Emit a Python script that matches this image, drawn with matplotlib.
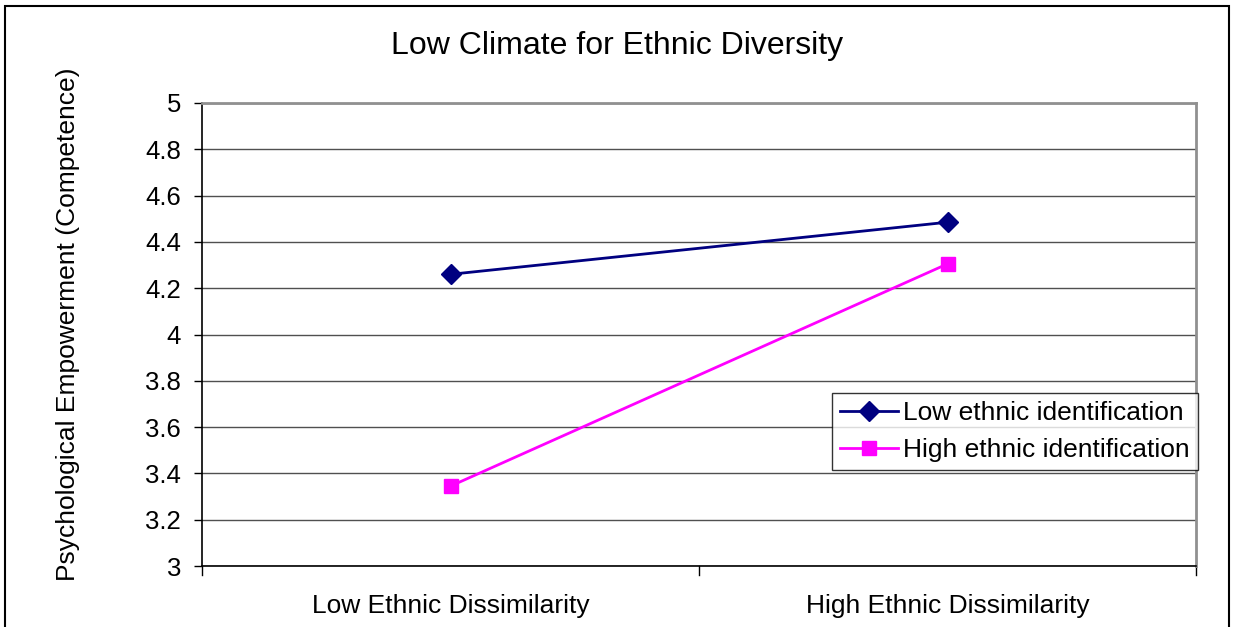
import matplotlib
matplotlib.use('Agg')
import matplotlib.pyplot as plt
from matplotlib.patches import Rectangle

plt.rcParams['font.family'] = ['Liberation Sans', 'DejaVu Sans']

categories = ['Low Ethnic Dissimilarity', 'High Ethnic Dissimilarity']
low_ident = [4.26, 4.485]
high_ident = [3.345, 4.305]
y_ticks = [3, 3.2, 3.4, 3.6, 3.8, 4, 4.2, 4.4, 4.6, 4.8, 5]

fig = plt.figure(figsize=(12.36, 6.27), dpi=100)
ax = fig.add_axes([202/1236, 1 - 566/627, (1196 - 202)/1236, (566 - 103)/627])

x = list(range(len(categories)))
ax.plot(x, low_ident, color='#000080', lw=2, marker='D', ms=10,
        label='Low ethnic identification')
ax.plot(x, high_ident, color='#FF00FF', lw=2, marker='s', ms=10,
        label='High ethnic identification')

ax.set_xlim(-0.5, 1.5)
ax.set_ylim(3, 5)
ax.set_yticks(y_ticks)
ax.set_yticklabels([f'{v:g}' for v in y_ticks])
ax.set_xticks(x)
ax.set_xticklabels(categories)
ax.tick_params(axis='x', length=0, pad=20, labelsize=19)
ax.tick_params(axis='y', length=6, width=1, color='black', labelsize=18.5, pad=9)
# category boundary ticks on x axis
for b in [-0.5, 0.5, 1.5]:
    ax.plot([b, b], [0, -0.02], transform=ax.get_xaxis_transform(),
            color='black', lw=1, clip_on=False)

ax.grid(axis='y', color='#505050', lw=1)
ax.set_axisbelow(True)
for side in ['top', 'right']:
    ax.spines[side].set_color('#909090')
    ax.spines[side].set_linewidth(2)
for side in ['left', 'bottom']:
    ax.spines[side].set_color('black')
    ax.spines[side].set_linewidth(1.2)

ax.set_ylabel('Psychological Empowerment (Competence)', fontsize=19)
ax.yaxis.set_label_coords((80 - 202)/994, 0.523)
fig.text(617/1236, 1 - 46/627, 'Low Climate for Ethnic Diversity',
         ha='center', va='center', fontsize=23)

leg = ax.legend(loc='upper left', bbox_to_anchor=(832/1236, 1 - 393/627),
                bbox_transform=fig.transFigure, fontsize=19, frameon=True,
                fancybox=False, borderpad=0.3, handlelength=2.2,
                handletextpad=0.2, labelspacing=0.5, borderaxespad=0)
leg.get_frame().set_edgecolor('black')
leg.get_frame().set_linewidth(1)

# outer chart border
fig.patches.append(Rectangle((5/1236, -0.05), (1229 - 5)/1236, 1.05 - 6/627,
                             transform=fig.transFigure, fill=False,
                             edgecolor='black', lw=1.5))

fig.savefig('out.png', dpi=100)
